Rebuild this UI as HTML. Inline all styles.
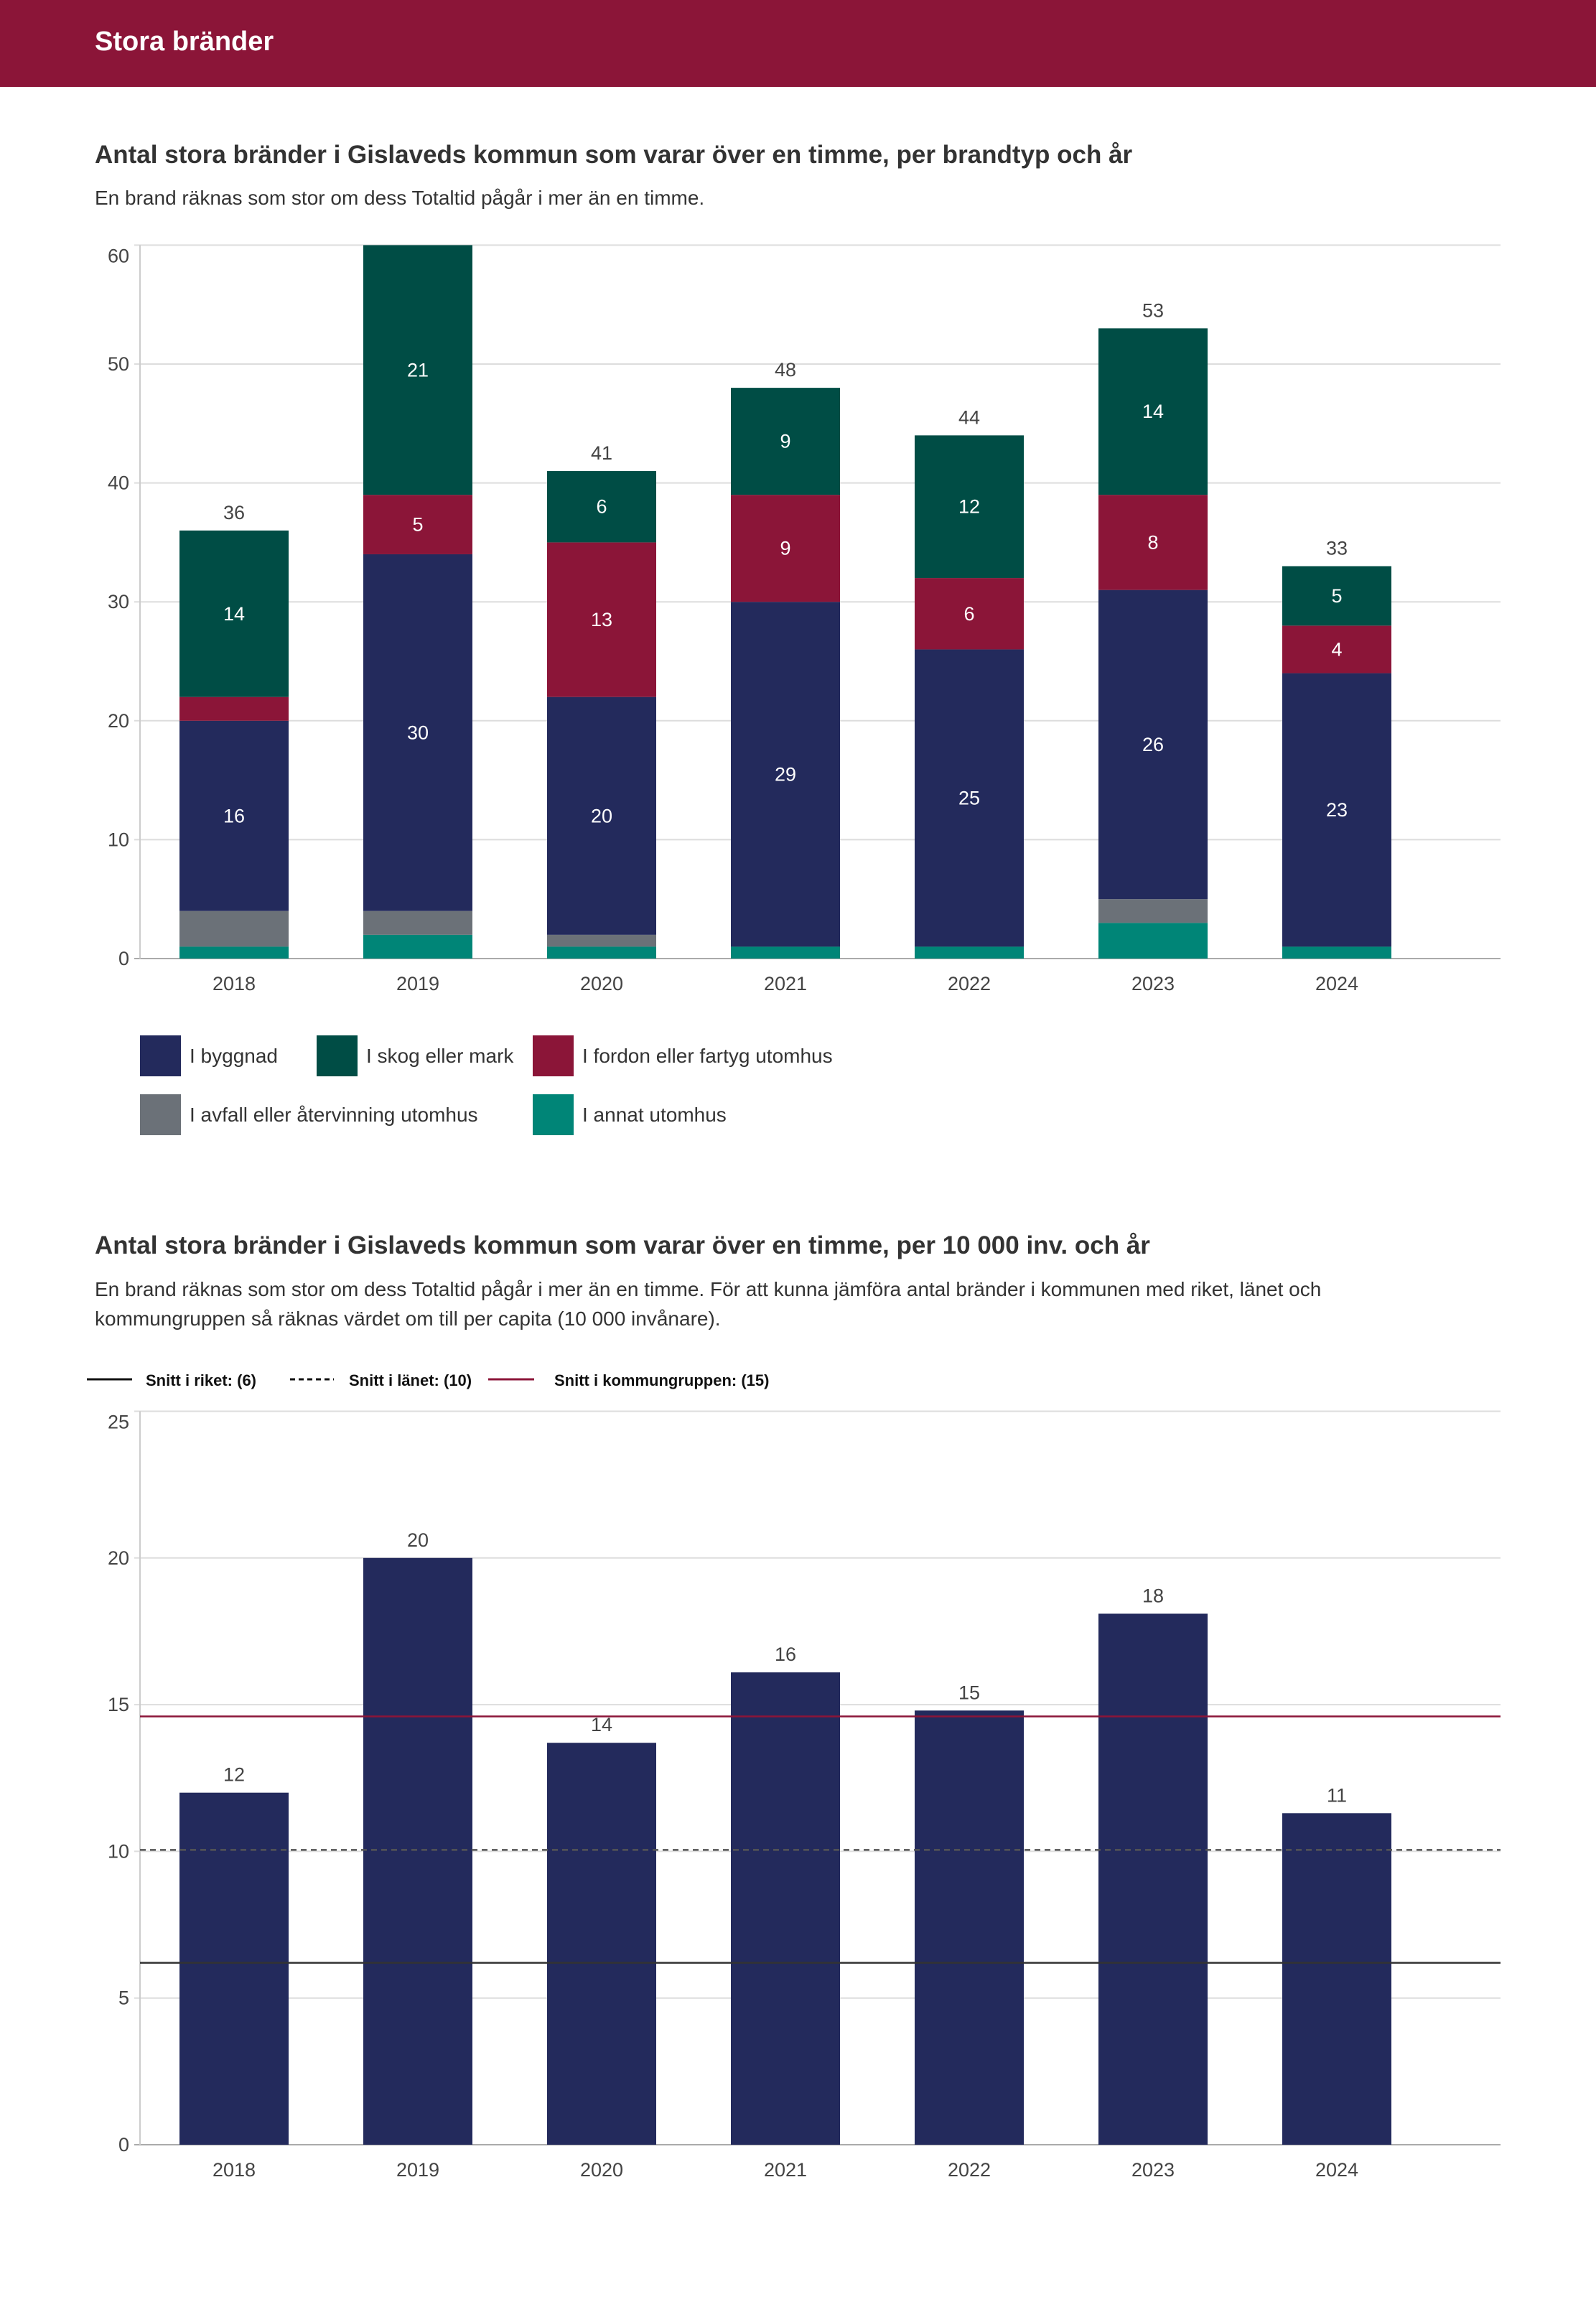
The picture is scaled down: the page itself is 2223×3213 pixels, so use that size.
<!DOCTYPE html>
<html><head><meta charset="utf-8">
<style>
html,body{margin:0;padding:0;background:#fff;}
svg{display:block;font-family:"Liberation Sans",sans-serif;}
</style></head>
<body>
<svg id="s" width="2223" height="3213" viewBox="0 0 2223 3213" xmlns="http://www.w3.org/2000/svg">
<rect x="0" y="0" width="2223" height="121" fill="#8b1538"/>
<text x="132" y="70" font-size="38" font-weight="bold" fill="#fff">Stora bränder</text>
<text x="132" y="227" font-size="35" font-weight="bold" fill="#333">Antal stora bränder i Gislaveds kommun som varar över en timme, per brandtyp och år</text>
<text x="132" y="285" font-size="28" fill="#333">En brand räknas som stor om dess Totaltid pågår i mer än en timme.</text>
<g id="c1"></g>
<g id="lg1"></g>
<text x="132" y="1746" font-size="35" font-weight="bold" fill="#333">Antal stora bränder i Gislaveds kommun som varar över en timme, per 10 000 inv. och år</text>
<text x="132" y="1805" font-size="28" fill="#333">En brand räknas som stor om dess Totaltid pågår i mer än en timme. För att kunna jämföra antal bränder i kommunen med riket, länet och</text>
<text x="132" y="1846" font-size="28" fill="#333">kommungruppen så räknas värdet om till per capita (10 000 invånare).</text>
<g id="lg2"></g>
<g id="c2"></g>
</svg>
<script>
const years = ["2018","2019","2020","2021","2022","2023","2024"];
const seriesNames = ["I annat utomhus","I avfall eller återvinning utomhus","I byggnad","I fordon eller fartyg utomhus","I skog eller mark"];
const seriesColors = ["#008577","#6b7178","#232a5c","#8b1538","#004d45"];
const annat = [1,2,1,1,1,3,1];
const avfall = [3,2,1,0,0,2,0];
const byggnad = [16,30,20,29,25,26,23];
const fordon = [2,5,13,9,6,8,4];
const skog = [14,21,6,9,12,14,5];
const ticks1 = [0,10,20,30,40,50,60];

const perCapita = [12.0,20.0,13.7,16.1,14.8,18.1,11.3];
const perCapitaLabels = ["12","20","14","16","15","18","11"];
const ticks2 = [0,5,10,15,20,25];
const refNames = ["Snitt i riket: (6)","Snitt i länet: (10)","Snitt i kommungruppen: (15)"];
const refValues = [6.2,10.05,14.6];

const NS="http://www.w3.org/2000/svg";
function mk(parent,tag,attrs,text){const e=document.createElementNS(NS,tag);for(const k in attrs)e.setAttribute(k,attrs[k]);if(text!==undefined)e.textContent=text;parent.appendChild(e);return e;}

const X0=195, X1=2090, BAND=256, C0=326, BW=152;
function xc(i){return C0+BAND*i;}

// Chart 1
(function(){
  const g=document.getElementById('c1');
  const y0=1335, ppu=165.6/10;
  const y=v=>y0-v*ppu;
  ticks1.forEach(t=>{
    const l=mk(g,'line',{x1:X0-8,x2:X1,y1:y(t),y2:y(t),stroke:t===0?'#aaa':'#ddd','stroke-width':2});
    
    
    const off=(t===60)?24:9;
    const tx=mk(g,'text',{x:180,y:y(t)+off,'text-anchor':'end','font-size':27,fill:'#444'},String(t));
    
    
  });
  const ax=mk(g,'line',{x1:X0,x2:X0,y1:y(60),y2:y0,stroke:'#ccc','stroke-width':2});
  
  
  const data=[annat,avfall,byggnad,fordon,skog];
  years.forEach((yr,i)=>{
    let acc=0;
    data.forEach((s,k)=>{
      const v=s[i]; if(v<=0) return;
      const r=mk(g,'rect',{x:xc(i)-BW/2,y:y(acc+v),width:BW,height:v*ppu,fill:seriesColors[k]});
      
      
      if(v>=4){
        const t=mk(g,'text',{x:xc(i),y:y(acc+v/2)+9,'text-anchor':'middle','font-size':27,fill:'#fff'},String(v));
        
        
      }
      acc+=v;
    });
    if(acc<60){
      const tot=mk(g,'text',{x:xc(i),y:y(acc)-16,'text-anchor':'middle','font-size':27,fill:'#444'},String(acc));
      
      
    }
    const xl=mk(g,'text',{x:xc(i),y:y0+44,'text-anchor':'middle','font-size':27,fill:'#444'},yr);
    
    
  });
  const lg=document.getElementById('lg1');
  const order=[2,4,3,1,0];
  const pos=[[195,1442],[441,1442],[742,1442],[195,1524],[742,1524]];
  order.forEach((k,j)=>{
    const [px,py]=pos[j];
    const r=mk(lg,'rect',{x:px,y:py,width:57,height:57,fill:seriesColors[k]});
    
    
    const t=mk(lg,'text',{x:px+69,y:py+38,'font-size':28,fill:'#333'},seriesNames[k]);
    
    
  });
})();

// Chart 2 legend
(function(){
  const lg=document.getElementById('lg2');
  const lx=[[121,184,203],[404,465,486],[680,744,772]];
  const styles=[{stroke:'#111'},{stroke:'#111','stroke-dasharray':'7,5'},{stroke:'#8b1538'}];
  refNames.forEach((n,i)=>{
    const a=Object.assign({x1:lx[i][0],x2:lx[i][1],y1:1921,y2:1921,'stroke-width':3},styles[i]);
    const l=mk(lg,'line',a);
    
    
    const t=mk(lg,'text',{x:lx[i][2],y:1930,'font-size':22,'font-weight':'bold',fill:'#111'},n);
    
    
  });
})();

// Chart 2
(function(){
  const g=document.getElementById('c2');
  const y0=2987, ppu=204.3/5;
  const y=v=>y0-v*ppu;
  ticks2.forEach(t=>{
    const l=mk(g,'line',{x1:X0-8,x2:X1,y1:y(t),y2:y(t),stroke:t===0?'#aaa':'#ddd','stroke-width':2});
    
    
    const off=(t===25)?24:9;
    const tx=mk(g,'text',{x:180,y:y(t)+off,'text-anchor':'end','font-size':27,fill:'#444'},String(t));
    
    
  });
  const ax=mk(g,'line',{x1:X0,x2:X0,y1:y(25),y2:y0,stroke:'#ccc','stroke-width':2});
  
  
  years.forEach((yr,i)=>{
    const v=perCapita[i];
    const r=mk(g,'rect',{x:xc(i)-BW/2,y:y(v),width:BW,height:v*ppu,fill:'#232a5c'});
    
    
    const t=mk(g,'text',{x:xc(i),y:y(v)-16,'text-anchor':'middle','font-size':27,fill:'#444'},perCapitaLabels[i]);
    
    
    const xl=mk(g,'text',{x:xc(i),y:y0+44,'text-anchor':'middle','font-size':27,fill:'#444'},yr);
    
    
  });
  const st=[{stroke:'#333'},{stroke:'#555','stroke-dasharray':'8,6'},{stroke:'#8b1538'}];
  refValues.forEach((v,i)=>{
    const a=Object.assign({x1:X0,x2:X1,y1:y(v),y2:y(v),'stroke-width':2.5},st[i]);
    const l=mk(g,'line',a);
    
    
  });
})();
</script>
</body></html>
